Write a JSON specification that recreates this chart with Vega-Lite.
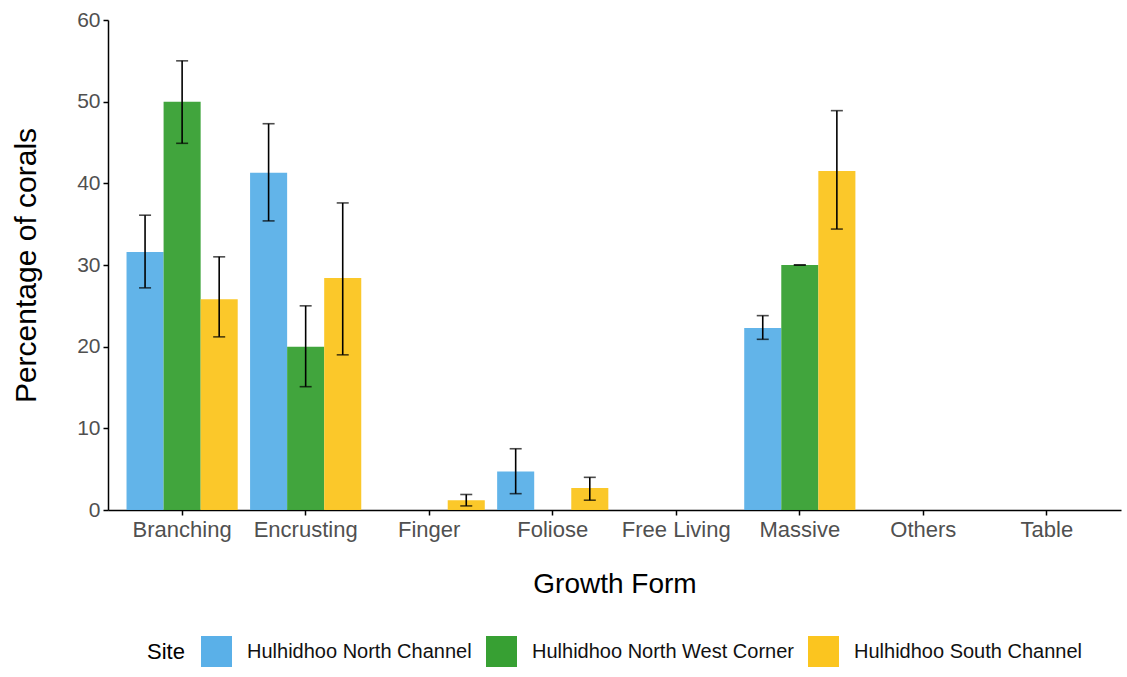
{
  "$schema": "https://vega.github.io/schema/vega-lite/v6.json",
  "width": 1013,
  "height": 490,
  "autosize": "none",
  "padding": {"left": 108, "top": 20, "right": 6, "bottom": 167},
  "background": "white",
  "config": {
    "view": {"stroke": null},
    "font": "Liberation Sans"
  },
  "data": {
    "values": [
      {"form": "Branching", "site": "Hulhidhoo North Channel", "mean": 31.6, "lo": 27.2, "hi": 36.1},
      {"form": "Branching", "site": "Hulhidhoo North West Corner", "mean": 50.0, "lo": 44.9, "hi": 55.0},
      {"form": "Branching", "site": "Hulhidhoo South Channel", "mean": 25.8, "lo": 21.2, "hi": 31.0},
      {"form": "Encrusting", "site": "Hulhidhoo North Channel", "mean": 41.3, "lo": 35.4, "hi": 47.3},
      {"form": "Encrusting", "site": "Hulhidhoo North West Corner", "mean": 20.0, "lo": 15.1, "hi": 25.0},
      {"form": "Encrusting", "site": "Hulhidhoo South Channel", "mean": 28.4, "lo": 19.0, "hi": 37.6},
      {"form": "Finger", "site": "Hulhidhoo North Channel", "mean": 0, "lo": null, "hi": null},
      {"form": "Finger", "site": "Hulhidhoo North West Corner", "mean": 0, "lo": null, "hi": null},
      {"form": "Finger", "site": "Hulhidhoo South Channel", "mean": 1.2, "lo": 0.5, "hi": 1.9},
      {"form": "Foliose", "site": "Hulhidhoo North Channel", "mean": 4.7, "lo": 2.0, "hi": 7.5},
      {"form": "Foliose", "site": "Hulhidhoo North West Corner", "mean": 0, "lo": null, "hi": null},
      {"form": "Foliose", "site": "Hulhidhoo South Channel", "mean": 2.7, "lo": 1.2, "hi": 4.0},
      {"form": "Free Living", "site": "Hulhidhoo North Channel", "mean": 0, "lo": null, "hi": null},
      {"form": "Free Living", "site": "Hulhidhoo North West Corner", "mean": 0, "lo": null, "hi": null},
      {"form": "Free Living", "site": "Hulhidhoo South Channel", "mean": 0, "lo": null, "hi": null},
      {"form": "Massive", "site": "Hulhidhoo North Channel", "mean": 22.3, "lo": 20.9, "hi": 23.8},
      {"form": "Massive", "site": "Hulhidhoo North West Corner", "mean": 30.0, "lo": 30.0, "hi": 30.0},
      {"form": "Massive", "site": "Hulhidhoo South Channel", "mean": 41.5, "lo": 34.4, "hi": 48.9},
      {"form": "Others", "site": "Hulhidhoo North Channel", "mean": 0, "lo": null, "hi": null},
      {"form": "Others", "site": "Hulhidhoo North West Corner", "mean": 0, "lo": null, "hi": null},
      {"form": "Others", "site": "Hulhidhoo South Channel", "mean": 0, "lo": null, "hi": null},
      {"form": "Table", "site": "Hulhidhoo North Channel", "mean": 0, "lo": null, "hi": null},
      {"form": "Table", "site": "Hulhidhoo North West Corner", "mean": 0, "lo": null, "hi": null},
      {"form": "Table", "site": "Hulhidhoo South Channel", "mean": 0, "lo": null, "hi": null}
    ]
  },
  "encoding": {
    "x": {
      "field": "form",
      "type": "nominal",
      "sort": null,
      "scale": {"paddingInner": 0.1, "paddingOuter": 0.15},
      "axis": {
        "title": "Growth Form",
        "labelAngle": 0,
        "labelFontSize": 22,
        "labelColor": "#505050",
        "labelPadding": 4,
        "tickColor": "#000000",
        "tickSize": 5,
        "tickWidth": 1.5,
        "domainColor": "#000000",
        "domainWidth": 1.5,
        "titleFontSize": 28,
        "titleFontWeight": "normal",
        "titleColor": "#000000",
        "titleY": 74,
        "titleBaseline": "middle"
      }
    },
    "xOffset": {"field": "site", "type": "nominal", "sort": null}
  },
  "layer": [
    {
      "mark": {"type": "bar", "opacity": 0.95},
      "encoding": {
        "y": {
          "field": "mean",
          "type": "quantitative",
          "scale": {"domain": [0, 60], "nice": false, "zero": true},
          "axis": {
            "title": "Percentage of corals",
            "values": [0, 10, 20, 30, 40, 50, 60],
            "grid": false,
            "labelFontSize": 21,
            "labelColor": "#505050",
            "labelPadding": 3,
            "tickColor": "#000000",
            "tickSize": 5,
            "tickWidth": 1.5,
            "domainColor": "#000000",
            "domainWidth": 1.5,
            "titleFontSize": 30,
            "titleFontWeight": "normal",
            "titleColor": "#000000",
            "titleX": -82,
            "titleY": 245,
            "titleAngle": -90,
            "titleAlign": "center",
            "titleBaseline": "middle"
          }
        },
        "color": {
          "field": "site",
          "type": "nominal",
          "sort": null,
          "scale": {
            "domain": ["Hulhidhoo North Channel", "Hulhidhoo North West Corner", "Hulhidhoo South Channel"],
            "range": ["#5AB0E8", "#37A033", "#FBC51F"]
          },
          "legend": {
            "title": "Site",
            "orient": "none",
            "direction": "horizontal",
            "legendX": 39,
            "legendY": 616,
            "titleOrient": "left",
            "titleFontSize": 22,
            "titleFontWeight": "normal",
            "titleColor": "#000000",
            "titlePadding": 16,
            "titleBaseline": "middle",
            "titleAnchor": "middle",
            "symbolType": "square",
            "symbolSize": 961,
            "symbolStrokeWidth": 0,
            "symbolOpacity": 1,
            "labelFontSize": 20,
            "labelColor": "#111111",
            "labelOffset": 15,
            "columnPadding": 14,
            "labelLimit": 400
          }
        }
      }
    },
    {
      "transform": [{"filter": "isValid(datum.lo)"}],
      "mark": {"type": "rule", "color": "#000000", "strokeWidth": 1.6},
      "encoding": {
        "y": {"field": "lo", "type": "quantitative"},
        "y2": {"field": "hi"}
      }
    },
    {
      "transform": [{"filter": "isValid(datum.lo)"}],
      "mark": {"type": "tick", "color": "#000000", "thickness": 1.6, "size": 12},
      "encoding": {
        "y": {"field": "lo", "type": "quantitative"}
      }
    },
    {
      "transform": [{"filter": "isValid(datum.hi)"}],
      "mark": {"type": "tick", "color": "#000000", "thickness": 1.6, "size": 12},
      "encoding": {
        "y": {"field": "hi", "type": "quantitative"}
      }
    }
  ]
}
